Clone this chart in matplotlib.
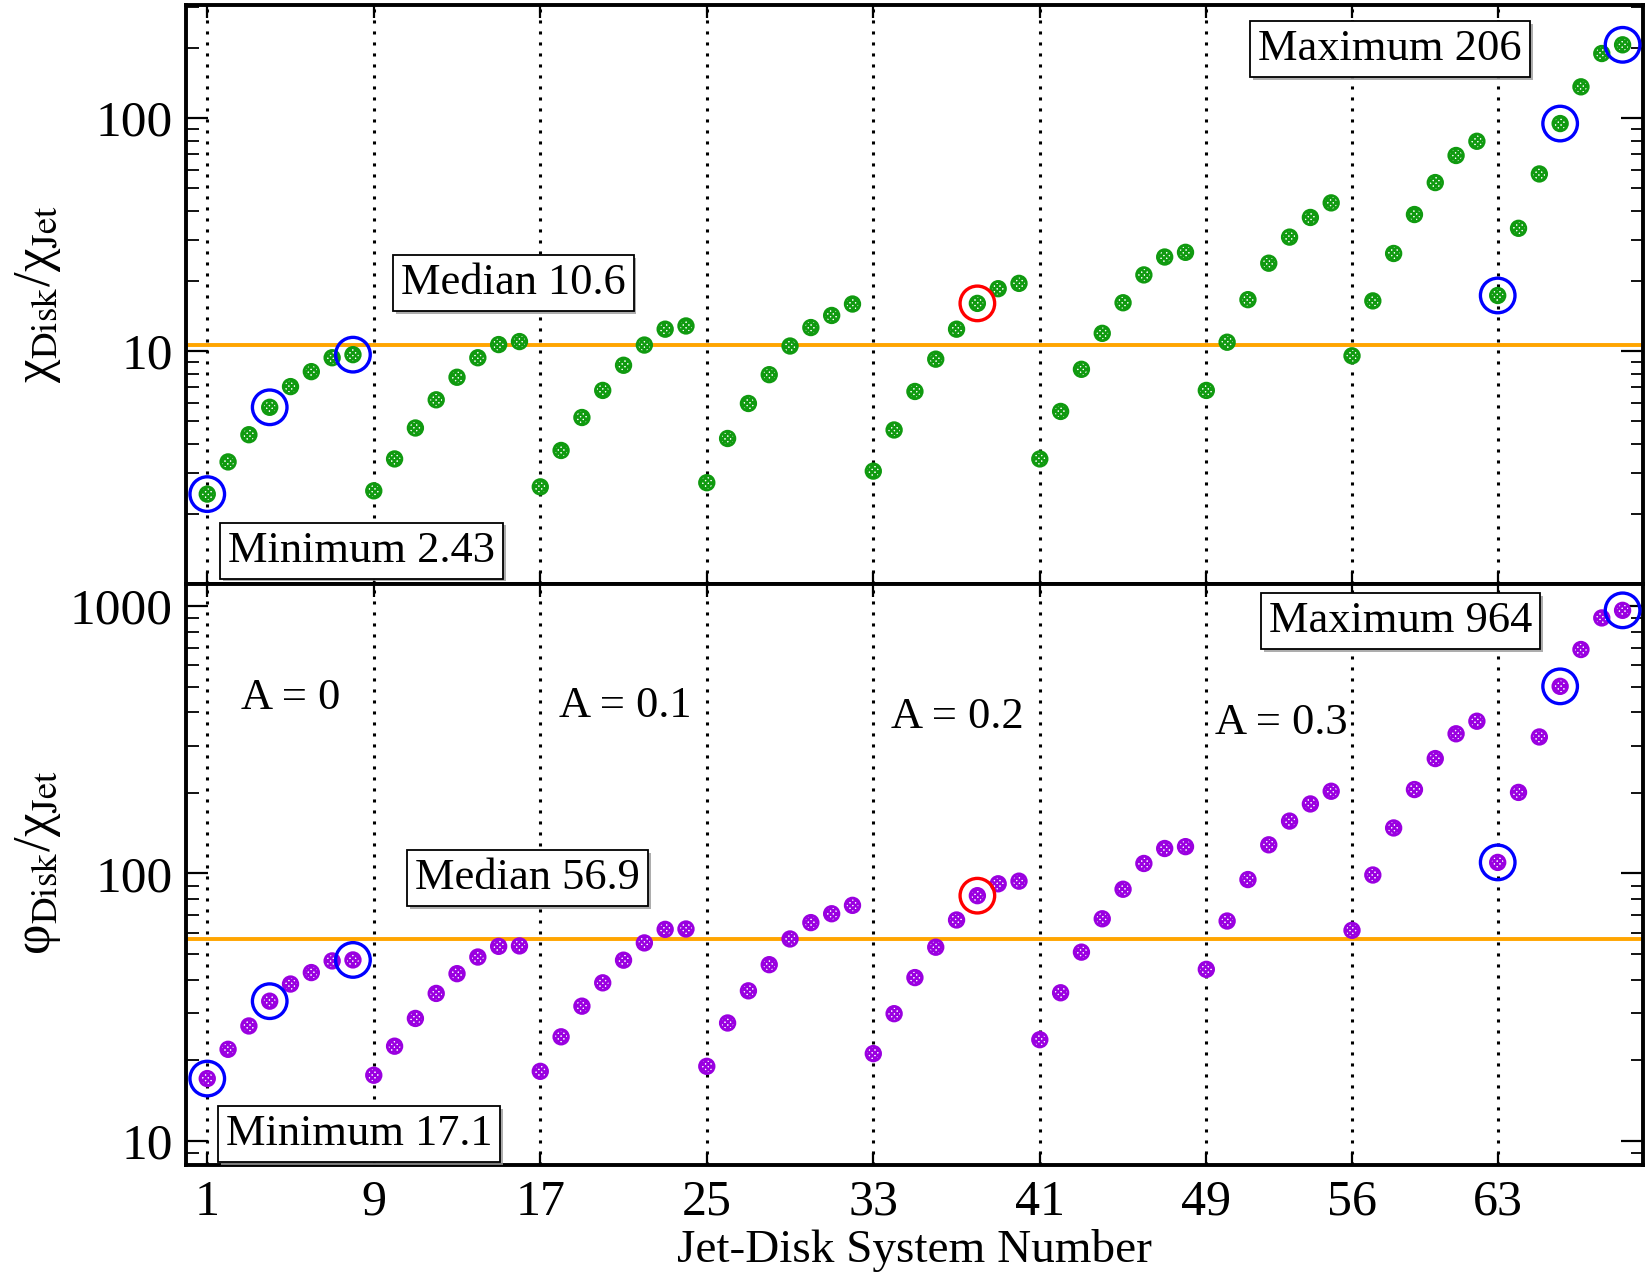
import numpy as np
import matplotlib as mpl
import matplotlib.pyplot as plt
import matplotlib.patheffects as pe

plt.rcParams['font.family'] = 'serif'
plt.rcParams['font.serif'] = ['Liberation Serif', 'DejaVu Serif']
plt.rcParams['mathtext.fontset'] = 'stix'

# numero de sistema jet-disco
systems = np.arange(1, 70)

chi_ratio = [2.43, 3.34, 4.37, 5.73, 7.03, 8.15, 9.35, 9.64,
             2.51, 3.44, 4.67, 6.17, 7.71, 9.35, 10.65, 10.97,
             2.61, 3.74, 5.18, 6.77, 8.68, 10.6, 12.4, 12.8,
             2.72, 4.21, 5.95, 7.91, 10.5, 12.6, 14.2, 15.9,
             3.05, 4.58, 6.70, 9.22, 12.4, 16.0, 18.5, 19.5,
             3.44, 5.5, 8.34, 11.9, 16.1, 21.2, 25.3, 26.5,
             6.77, 10.9, 16.6, 23.8, 30.8, 37.4, 43.2,
             9.53, 16.4, 26.2, 38.5, 52.8, 69.0, 79.4,
             17.3, 33.6, 57.5, 94.6, 136, 189, 206]

phi_ratio = [17.1, 22.0, 26.9, 33.3, 38.6, 42.6, 47.1, 47.5,
             17.6, 22.6, 28.7, 35.6, 42.2, 48.7, 53.4, 53.6,
             18.2, 24.5, 31.9, 39.0, 47.4, 55.0, 61.8, 62.0,
             19.0, 27.6, 36.4, 45.6, 56.9, 65.5, 70.7, 76.0,
             21.2, 29.9, 40.8, 53.0, 67.0, 82.6, 91.5, 93.6,
             23.9, 35.8, 50.8, 67.7, 87.3, 109, 124, 126,
             43.8, 66.4, 94.9, 128, 157, 182, 203,
             61.3, 98.7, 148, 206, 269, 333, 371,
             110, 201, 324, 501, 688, 903, 964]

chi_median = 10.6
phi_median = 56.9
chi_min, chi_max = 2.43, 206
phi_min, phi_max = 17.1, 964

blue_systems = [1, 4, 8, 63, 66, 69]
red_systems = [38]

group_ticks = [1, 9, 17, 25, 33, 41, 49, 56, 63]
a_labels = ["A = 0", "A = 0.1", "A = 0.2", "A = 0.3"]

chi_ratio = np.array(chi_ratio)
phi_ratio = np.array(phi_ratio)
blue_i = np.array(blue_systems) - 1
red_i = np.array(red_systems) - 1

fig = plt.figure(figsize=(16.5, 12.75), dpi=100)
ax1 = fig.add_axes([0.113, 0.542, 0.883, 0.454])
ax2 = fig.add_axes([0.113, 0.086, 0.883, 0.456], sharex=ax1)

box = dict(boxstyle='square,pad=0.18', facecolor='white', edgecolor='black', linewidth=1.3)
shadow = [pe.SimplePatchShadow(offset=(2, -2), shadow_rgbFace='0.6', alpha=0.8), pe.Normal()]


def panel(ax, y, color, median, ylim, yticks):
    for xv in group_ticks:
        ax.axvline(xv, color='black', linestyle=(0, (1, 2.6)), linewidth=2.2, zorder=1)
    ax.axhline(median, color='#ffa500', linewidth=2.8, zorder=2)
    # puntos con trama cuadriculada
    with plt.rc_context({'hatch.color': color, 'hatch.linewidth': 1.7}):
        ax.scatter(systems, y, s=110, facecolor='white', edgecolor=color,
                   linewidths=2.0, hatch='xxxxxx', zorder=3)
    ax.scatter(systems[blue_i], y[blue_i], s=620, facecolor='none',
               edgecolor='#0000ff', linewidths=2.4, zorder=4)
    ax.scatter(systems[red_i], y[red_i], s=620, facecolor='none',
               edgecolor='#ff0000', linewidths=2.4, zorder=4)
    ax.set_yscale('log')
    ax.set_ylim(*ylim)
    ax.set_yticks(yticks)
    ax.set_yticklabels([str(t) for t in yticks])
    ax.set_xlim(0, 70)
    ax.tick_params(which='both', direction='in', top=True, right=True)
    ax.tick_params(axis='y', which='major', length=16, width=1.6, labelsize=37, pad=10)
    ax.tick_params(axis='y', which='minor', length=9, width=1.3)
    ax.tick_params(axis='x', which='major', length=9, width=1.6, labelsize=36, pad=10)
    ax.tick_params(axis='x', which='minor', bottom=False, top=False)
    for sp in ax.spines.values():
        sp.set_linewidth(2.8)


def note(ax, x, y, s):
    t = ax.text(x, y, s, fontsize=32, ha='left', va='center', bbox=box, zorder=6)
    t.get_bbox_patch().set_path_effects(shadow)


panel(ax1, chi_ratio, '#109a10', chi_median, (1.0, 305), [10, 100])
panel(ax2, phi_ratio, '#9a00e0', phi_median, (8.1, 1210), [10, 100, 1000])

ax1.tick_params(axis='x', labelbottom=False)
ax2.set_xticks(group_ticks)
ax2.set_xticklabels([str(v) for v in group_ticks])

note(ax1, 10.3, 19.5, "Median %.1f" % chi_median)
note(ax1, 2.0, 1.39, "Minimum %.2f" % chi_min)
note(ax1, 51.5, 197, "Maximum %d" % chi_max)

note(ax2, 11.0, 96, "Median %.1f" % phi_median)
note(ax2, 1.9, 10.6, "Minimum %.1f" % phi_min)
note(ax2, 52.0, 877, "Maximum %d" % phi_max)

for xa, ya, lab in zip([2.6, 17.9, 33.85, 49.4], [453, 423, 384, 365], a_labels):
    ax2.text(xa, ya, lab, fontsize=32, ha='left', va='center', zorder=6)

ax1.set_ylabel(r'χ$_{\rm Disk}$/χ$_{\rm Jet}$', fontsize=38)
ax2.set_ylabel(r'φ$_{\rm Disk}$/χ$_{\rm Jet}$', fontsize=38)
ax1.yaxis.set_label_coords(-0.085, 0.5)
ax2.yaxis.set_label_coords(-0.085, 0.52)
ax2.set_xlabel("Jet-Disk System Number", fontsize=34, labelpad=2)

fig.savefig("out.png", dpi=100)
